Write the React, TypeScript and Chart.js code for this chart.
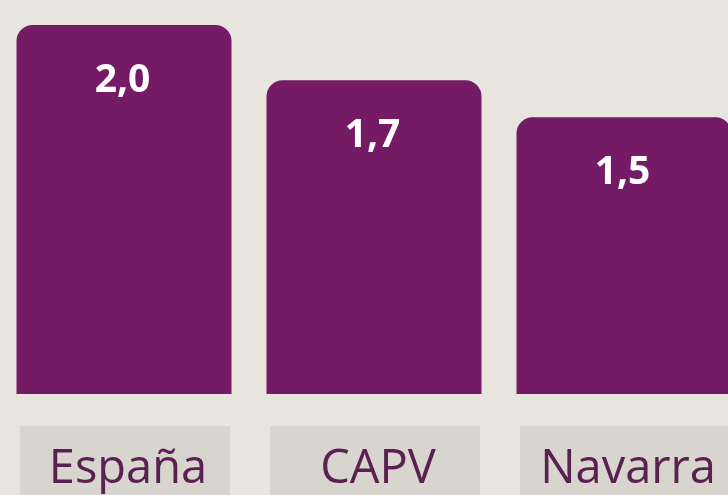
import React, { useEffect, useRef } from "react";
import { Chart, registerables } from "chart.js";

Chart.register(...registerables);

const categories: string[] = ["España", "CAPV", "Navarra"];
const values: number[] = [2.0, 1.7, 1.5];
const valueLabels: string[] = ["2,0", "1,7", "1,5"];

const BG = "#e8e5df";
const BAR = "#751a65";
const BOX = "#d8d5cf";
const TEXT = "#5a2051";

const labelsPlugin = {
  id: "customLabels",
  afterDatasetsDraw(chart: any) {
    const ctx = chart.ctx;
    const meta = chart.getDatasetMeta(0);
    ctx.save();
    ctx.font = "bold 39px 'Open Sans'";
    ctx.fillStyle = "#ffffff";
    ctx.textAlign = "center";
    ctx.textBaseline = "alphabetic";
    meta.data.forEach((bar: any, i: number) => {
      ctx.fillText(valueLabels[i], bar.x - 1.5, bar.y + 67);
    });
    ctx.restore();
  },
  afterDraw(chart: any) {
    const ctx = chart.ctx;
    const xs = chart.scales.x;
    ctx.save();
    categories.forEach((c, i) => {
      const cx = xs.getPixelForValue(i);
      ctx.fillStyle = BOX;
      ctx.fillRect(cx + 1 - 105, 426, 210, 80);
      ctx.fillStyle = TEXT;
      ctx.font = "47px 'Open Sans'";
      ctx.textAlign = "center";
      ctx.textBaseline = "alphabetic";
      ctx.fillText(c, cx + 4, 483);
    });
    ctx.restore();
  },
};

export default function App() {
  const ref = useRef<HTMLCanvasElement | null>(null);
  useEffect(() => {
    if (!ref.current) return;
    const chart = new Chart(ref.current, {
      type: "bar",
      data: {
        labels: categories,
        datasets: [
          {
            data: values,
            backgroundColor: BAR,
            borderRadius: 16,
            borderSkipped: "start",
            barPercentage: 0.86,
            categoryPercentage: 1,
          },
        ],
      },
      options: {
        animation: false,
        responsive: false,
        devicePixelRatio: 1,
        layout: { padding: { top: 25, bottom: 101, left: 0, right: 0 } },
        plugins: { legend: { display: false }, tooltip: { enabled: false } },
        scales: {
          x: { display: false, grid: { display: false } },
          y: { display: false, min: 0, max: 2.0 },
        },
      },
      plugins: [labelsPlugin],
    });
    return () => chart.destroy();
  }, []);
  return (
    <div
      style={{
        position: "fixed",
        left: 0,
        top: 0,
        width: 728,
        height: 495,
        overflow: "hidden",
        background: BG,
      }}
    >
      <canvas
        ref={ref}
        width={750}
        height={495}
        style={{ display: "block", marginLeft: -1.5, width: 750, height: 495 }}
      />
    </div>
  );
}
